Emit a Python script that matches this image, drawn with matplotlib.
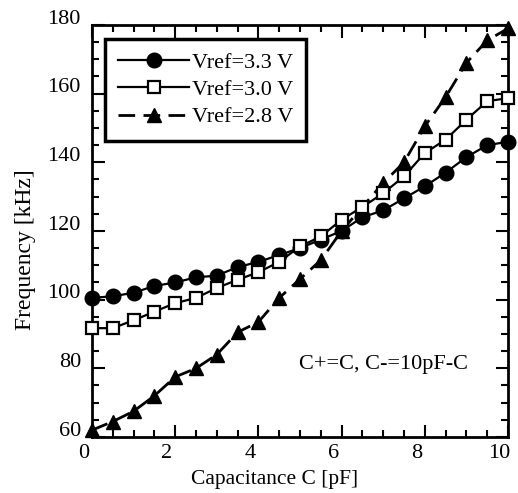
import matplotlib
matplotlib.use("Agg")
import matplotlib.pyplot as plt
import matplotlib.transforms as mtransforms
from matplotlib.ticker import MultipleLocator

# capacitance sweep (pF) and measured frequency (kHz) for each reference voltage
cap = [0.0, 0.5, 1.0, 1.5, 2.0, 2.5, 3.0, 3.5, 4.0, 4.5, 5.0,
       5.5, 6.0, 6.5, 7.0, 7.5, 8.0, 8.5, 9.0, 9.5, 10.0]
f_33 = [100.5, 101.0, 102.0, 104.0, 105.0, 106.5, 107.0, 109.5, 111.0, 113.0, 115.0,
        117.5, 120.0, 124.0, 126.0, 129.5, 133.0, 137.0, 141.5, 145.0, 146.0]
f_30 = [91.7, 91.7, 94.0, 96.5, 99.0, 100.5, 103.4, 105.8, 108.0, 111.0, 115.5,
        118.4, 123.3, 127.0, 131.0, 135.9, 142.7, 146.6, 152.4, 157.8, 158.7]
f_28 = [62.0, 64.5, 67.5, 72.0, 77.5, 80.0, 84.0, 90.5, 93.5, 100.5, 106.0,
        111.5, 120.0, 127.0, 134.0, 140.0, 150.5, 159.0, 169.0, 175.5, 179.0]
labels = ["Vref=3.3 V", "Vref=3.0 V", "Vref=2.8 V"]

plt.rcParams['font.family'] = ['Liberation Serif', 'DejaVu Serif']

fig = plt.figure(figsize=(5.18, 4.93), dpi=100)
ax = fig.add_axes([0.1776, 0.1136, 0.8031, 0.8357])

l28, = ax.plot(cap, f_28, color='k', ls='--', dashes=(6, 3), lw=2, marker='^', ms=10,
               clip_on=False, zorder=3)
l33, = ax.plot(cap, f_33, color='k', ls='-', lw=1.6, marker='o', ms=10.5,
               clip_on=False, zorder=4)
l30, = ax.plot(cap, f_30, color='k', ls='-', lw=1.6, marker='s', ms=8, mfc='white',
               mew=1.6, clip_on=False, zorder=5)

ax.set_xlim(0, 10)
ax.set_ylim(60, 180)
ax.xaxis.set_major_locator(MultipleLocator(2))
ax.xaxis.set_minor_locator(MultipleLocator(0.5))
ax.yaxis.set_major_locator(MultipleLocator(20))
ax.yaxis.set_minor_locator(MultipleLocator(5))
ax.tick_params(which='both', direction='in', top=True, right=True, width=1.5)
ax.tick_params(which='major', length=9, labelsize=16)
ax.tick_params(which='minor', length=5)
ax.tick_params(axis='x', pad=5)
ax.tick_params(axis='y', pad=8)
for s in ax.spines.values():
    s.set_linewidth(2)

# tick labels sit slightly off their ticks
dx = mtransforms.ScaledTranslation(-6 / 72, 0, fig.dpi_scale_trans)
dy = mtransforms.ScaledTranslation(0, 6 / 72, fig.dpi_scale_trans)
for t in ax.xaxis.get_major_ticks(6):
    t.label1.set_transform(t.label1.get_transform() + dx)
for t in ax.yaxis.get_major_ticks(7):
    t.label1.set_transform(t.label1.get_transform() + dy)

ax.set_xlabel("Capacitance C [pF]", fontsize=15.5)
ax.xaxis.set_label_coords(0.44, -0.08)
ax.set_ylabel("Frequency [kHz]", fontsize=17)
ax.yaxis.set_label_coords(-0.135, 0.454)

ax.text(7.0, 81, "C+=C, C-=10pF-C", ha='center', va='center', fontsize=16)

leg = ax.legend([l33, l30, l28], labels, loc='upper left', bbox_to_anchor=(0.031, 0.966),
                borderaxespad=0, fontsize=16, handlelength=3.2, numpoints=1,
                fancybox=False, edgecolor='k', framealpha=1, labelspacing=0.3,
                handletextpad=0.1, borderpad=0.6)
leg.get_frame().set_linewidth(2.5)

fig.savefig("out.png", dpi=100)
